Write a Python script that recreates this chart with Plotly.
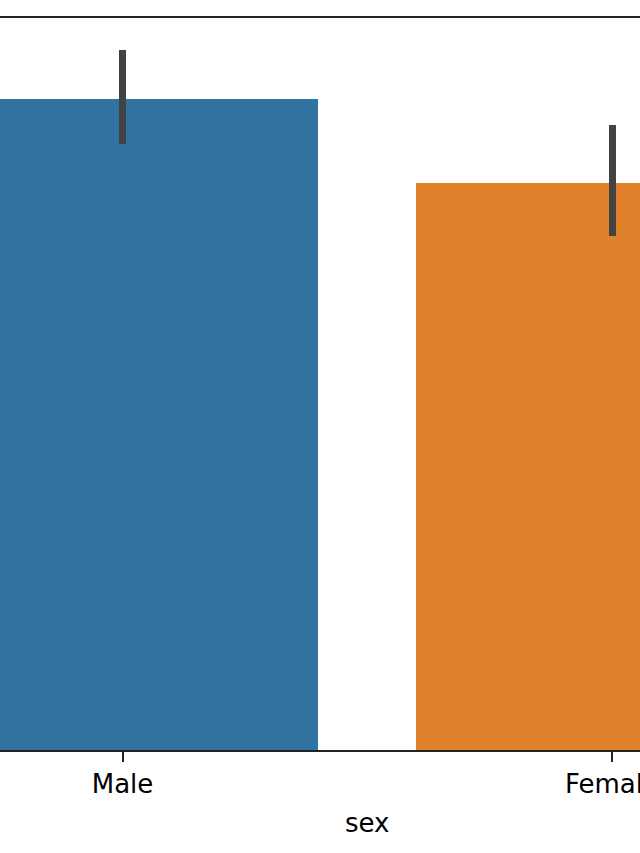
import plotly.graph_objects as go

categories = ["Male", "Female"]
means = [20.74, 18.06]
ci_low = [19.31, 16.36]
ci_high = [22.30, 19.92]
colors = ["#3274a1", "#e1812c"]

x_pos = list(range(len(categories)))
err_plus = [h - m for h, m in zip(ci_high, means)]
err_minus = [m - l for m, l in zip(means, ci_low)]

fig = go.Figure()
fig.add_trace(go.Bar(
    x=x_pos, y=means, width=0.8,
    marker=dict(color=colors, line=dict(width=0)),
    error_y=dict(type="data", array=err_plus, arrayminus=err_minus,
                 color="#424242", thickness=7, width=0),
    showlegend=False,
))

font = dict(family="DejaVu Sans", size=26, color="#000000")
fig.update_layout(
    width=640, height=853, autosize=False,
    margin=dict(l=0, r=0, t=18, b=103, autoexpand=False),
    plot_bgcolor="white", paper_bgcolor="white",
    font=font,
    bargap=0,
    xaxis=dict(
        range=[-0.2503, 1.0572],
        tickmode="array", tickvals=x_pos, ticktext=categories,
        ticks="outside", ticklen=10, tickwidth=1.5, tickcolor="#222222",
        showline=True, linecolor="#222222", linewidth=1.5, mirror=True,
        showgrid=False, zeroline=False, automargin=False,
        ticklabeloverflow="allow",
        tickfont=font,
    ),
    yaxis=dict(range=[0, 23.32], visible=False, automargin=False),
    annotations=[dict(
        x=0.5, xref="x", y=-0.0997, yref="paper",
        text="sex", showarrow=False, xanchor="center", yanchor="middle",
        font=font,
    )],
)

fig.write_html(
    "out.html",
    config={"displayModeBar": False, "responsive": False},
    post_script=(
        "document.body.style.margin='0';"
        "document.body.style.overflow='hidden';"
    ),
)
